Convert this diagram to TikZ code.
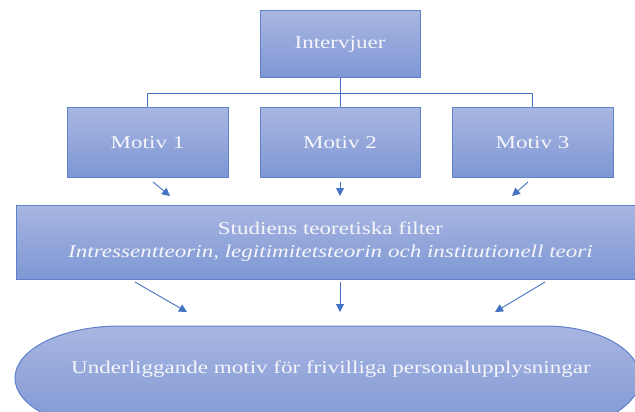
\documentclass[tikz,border=0pt]{standalone}
\usepackage{fontspec}
\setmainfont{Liberation Serif}[FakeStretch=1.28]
\usetikzlibrary{arrows.meta}
\definecolor{boxtop}{RGB}{168,182,225}
\definecolor{boxbot}{RGB}{126,151,212}
\definecolor{boxline}{RGB}{95,128,205}
\definecolor{conn}{RGB}{68,114,196}
\definecolor{txtcol}{RGB}{246,246,250}
\tikzset{
  bluebox/.style={draw=boxline, line width=1pt, top color=boxtop, bottom color=boxbot,
    inner sep=0pt, text=txtcol, font=\fontsize{18}{23}\selectfont},
  txt/.style={text=txtcol, font=\fontsize{18}{23}\selectfont, inner sep=0pt},
  tree/.style={draw=conn, line width=0.9pt},
  arr/.style={draw=conn, line width=0.9pt, -{Triangle[length=8pt,width=8pt]}}
}
\begin{document}
\begin{tikzpicture}[x=1pt,y=-1pt]
\useasboundingbox (0,0) rectangle (635,412);
\clip (0,0) rectangle (635,412);
\fill[white] (0,0) rectangle (635,412);

\node[bluebox, minimum width=160pt, minimum height=67pt] (intv) at (340,44.5) {Intervjuer};
\node[bluebox, minimum width=161pt, minimum height=69pt] (m1) at (147.5,142.5) {Motiv 1};
\node[bluebox, minimum width=160pt, minimum height=69pt] (m2) at (340,142.5) {Motiv 2};
\node[bluebox, minimum width=161pt, minimum height=69pt] (m3) at (532.5,142.5) {Motiv 3};

\coordinate (jn) at (340,93);
\coordinate (jl) at (147.5,93);
\coordinate (jr) at (532.5,93);
\draw[tree] (intv.south) -- (m2.north);
\draw[tree] (m1.north) -- (jl) -- (jr) -- (m3.north);

\node[bluebox, minimum width=629pt, minimum height=74pt, align=center] (filt) at (330.5,242)
  {Studiens teoretiska filter\\ \textit{Intressentteorin, legitimitetsteorin och institutionell teori}};

% upper arrows
\coordinate (a1s) at (153,182); \coordinate (a1e) at (170,196);
\coordinate (a2s) at (340,182); \coordinate (a2e) at (340,196);
\coordinate (a3s) at (528,182); \coordinate (a3e) at (512,196);
\draw[arr] (a1s) -- (a1e);
\draw[arr] (a2s) -- (a2e);
\draw[arr] (a3s) -- (a3e);

% lower arrows
\coordinate (b1s) at (135,282); \coordinate (b1e) at (187,312);
\coordinate (b2s) at (340,282); \coordinate (b2e) at (340,312);
\coordinate (b3s) at (545,282); \coordinate (b3e) at (495,312);
\draw[arr] (b1s) -- (b1e);
\draw[arr] (b2s) -- (b2e);
\draw[arr] (b3s) -- (b3e);

% oval
\path[draw=boxline, line width=1pt, top color=boxtop, bottom color=boxbot]
  (120,326) -- (545,326) arc[start angle=90, end angle=-90, x radius=95pt, y radius=52pt]
  -- (120,430) arc[start angle=270, end angle=90, x radius=105pt, y radius=52pt] -- cycle;
\node[txt] (und) at (331,369) {Underliggande motiv för frivilliga personalupplysningar};
\end{tikzpicture}
\end{document}
